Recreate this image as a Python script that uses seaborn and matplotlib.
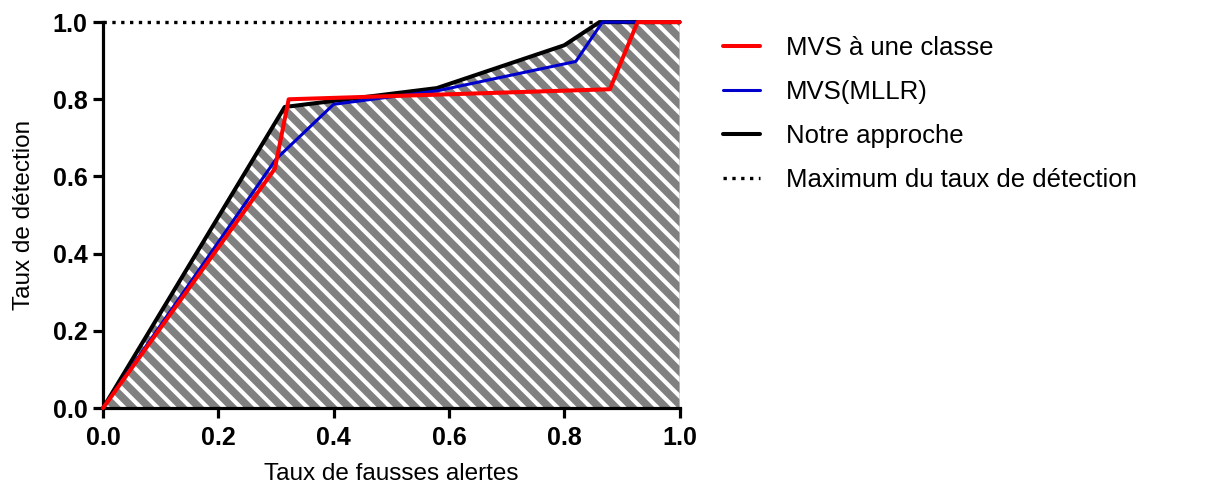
import numpy as np
import pandas as pd
import matplotlib.pyplot as plt
import seaborn as sns

# ----------------------------------------
# Data
# ----------------------------------------
fa_ocsvm = [0.0, 0.298, 0.322, 0.879, 0.927, 1.0]
det_ocsvm = [0.0, 0.62, 0.80, 0.826, 1.0, 1.0]

fa_mllr = [0.0, 0.30, 0.40, 0.58, 0.82, 0.866, 1.0]
det_mllr = [0.0, 0.645, 0.787, 0.822, 0.898, 1.0, 1.0]

fa_ours = [0.0, 0.315, 0.579, 0.80, 0.861, 1.0]
det_ours = [0.0, 0.78, 0.829, 0.94, 1.0, 1.0]

fa_max = [0.0, 1.0]
det_max = [1.0, 1.0]

labels = ["MVS à une classe", "MVS(MLLR)", "Notre approche", "Maximum du taux de détection"]
colors = ["#ff0000", "#0000cc", "#000000", "#000000"]
tick_vals = [0.0, 0.2, 0.4, 0.6, 0.8, 1.0]
tick_text = ["0.0", "0.2", "0.4", "0.6", "0.8", "1.0"]

# ----------------------------------------
# Style
# ----------------------------------------
sns.set_style("ticks", {"axes.edgecolor": "black", "xtick.color": "black",
                        "ytick.color": "black", "text.color": "black",
                        "axes.labelcolor": "black"})
plt.rcParams["font.family"] = ["Liberation Sans", "DejaVu Sans"]
plt.rcParams["hatch.linewidth"] = 3.0

fig = plt.figure(figsize=(12.05, 4.91), dpi=100)
ax = fig.add_axes([0.0855, 0.169, 0.4785, 0.786])

# hatched area under our curve
ax.fill_between(
    fa_ours,
    det_ours,
    0,
    facecolor="#808080",
    edgecolor="white",
    linewidth=0,
    hatch="\\\\",
    zorder=1
)

series = [
    (fa_ocsvm, det_ocsvm, labels[0], colors[0], "-", 2.9),
    (fa_mllr, det_mllr, labels[1], colors[1], "-", 2.2),
    (fa_ours, det_ours, labels[2], colors[2], "-", 2.9),
    (fa_max, det_max, labels[3], colors[3], ":", 2.4),
]

# draw order: black, blue, red on top
for idx in [2, 1, 0, 3]:
    x, y, lab, col, ls, lw = series[idx]
    df = pd.DataFrame({"x": x, "y": y})
    sns.lineplot(
        data=df,
        x="x",
        y="y",
        sort=False,
        color=col,
        linestyle=ls,
        linewidth=lw,
        ax=ax,
        label=lab,
        clip_on=False,
        zorder=3 + (3 - idx)
    )

ax.set_xlim(0, 1)
ax.set_ylim(0, 1)
ax.set_xticks(tick_vals)
ax.set_yticks(tick_vals)
ax.set_xticklabels(tick_text, fontweight="bold")
ax.set_yticklabels(tick_text, fontweight="bold")
ax.tick_params(axis="both", labelsize=18, width=2.3, length=7, direction="out", pad=4)
ax.tick_params(axis="x", pad=6)

sns.despine(ax=ax)
for side in ["left", "bottom"]:
    ax.spines[side].set_linewidth(2.3)

ax.set_xlabel("Taux de fausses alertes", fontsize=17.5, labelpad=9)
ax.set_ylabel("Taux de détection", fontsize=17.5, labelpad=13)

handles, labs = ax.get_legend_handles_labels()
order = [labs.index(l) for l in labels]
leg = ax.legend(
    [handles[i] for i in order],
    [labs[i] for i in order],
    loc="upper left",
    bbox_to_anchor=(1.035, 1.025),
    frameon=False,
    fontsize=18.5,
    handlelength=1.45,
    handletextpad=1.0,
    labelspacing=0.78
)

plt.savefig("out.png", dpi=100)
plt.close()

print("Figure Saved")
